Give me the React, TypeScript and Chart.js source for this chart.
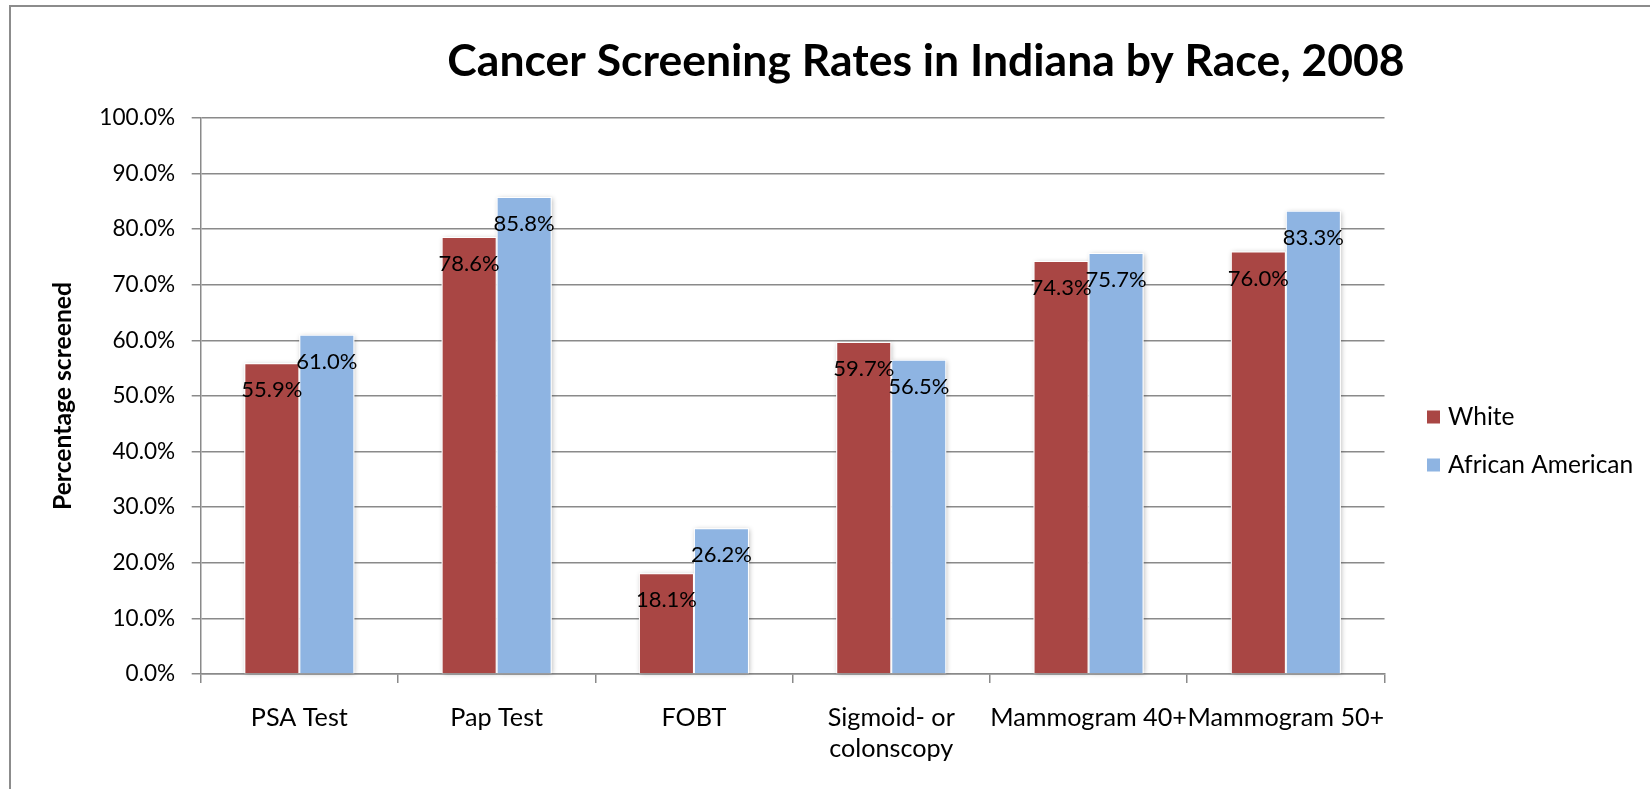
import React, { useEffect, useRef } from 'react';
import { Chart, registerables } from 'chart.js';

Chart.register(...registerables);

const chartTitle = 'Cancer Screening Rates in Indiana by Race, 2008';
const yAxisTitle = 'Percentage screened';
const categories: (string | string[])[] = [
  'PSA Test',
  'Pap Test',
  'FOBT',
  ['Sigmoid- or', 'colonscopy'],
  'Mammogram 40+',
  'Mammogram 50+',
];
const seriesNames = ['White', 'African American'];
const whiteValues = [55.9, 78.6, 18.1, 59.7, 74.3, 76.0];
const africanAmericanValues = [61.0, 85.8, 26.2, 56.5, 75.7, 83.3];
const yMin = 0;
const yMax = 100;
const yStep = 10;

const RED = '#A94644';
const BLUE = '#8EB4E2';
const GRID = '#8A8A8A';
const FONT = 'Lato, "Noto Sans", sans-serif';

const W = 1650;
const H = 789;

const framePlugin = {
  id: 'frame',
  beforeDraw(chart: any) {
    const ctx = chart.ctx;
    ctx.save();
    ctx.fillStyle = '#ffffff';
    ctx.fillRect(0, 0, chart.width, chart.height);
    ctx.strokeStyle = '#8C8C8C';
    ctx.lineWidth = 2;
    ctx.beginPath();
    ctx.moveTo(10, chart.height + 5);
    ctx.lineTo(10, 6);
    ctx.lineTo(chart.width + 5, 6);
    ctx.stroke();
    ctx.restore();
  },
};

const shadowPlugin = {
  id: 'barShadow',
  beforeDatasetsDraw(chart: any) {
    const ctx = chart.ctx;
    ctx.save();
    ctx.shadowColor = 'rgba(0,0,0,0.28)';
    ctx.shadowBlur = 5;
    ctx.shadowOffsetX = 1;
    ctx.shadowOffsetY = 1;
    ctx.fillStyle = '#ffffff';
    chart.data.datasets.forEach((_d: any, i: number) => {
      const meta = chart.getDatasetMeta(i);
      meta.data.forEach((el: any) => {
        const p = el.getProps(['x', 'y', 'base', 'width'], true);
        ctx.fillRect(p.x - p.width / 2, p.y, p.width, p.base - p.y);
      });
    });
    ctx.restore();
  },
};

const valueLabelPlugin = {
  id: 'valueLabels',
  afterDatasetsDraw(chart: any) {
    const ctx = chart.ctx;
    ctx.save();
    ctx.font = `22px ${FONT}`;
    ctx.fillStyle = '#000000';
    ctx.textAlign = 'center';
    ctx.textBaseline = 'middle';
    chart.data.datasets.forEach((ds: any, i: number) => {
      const meta = chart.getDatasetMeta(i);
      meta.data.forEach((el: any, j: number) => {
        const p = el.getProps(['x', 'y'], true);
        ctx.fillText(`${Number(ds.data[j]).toFixed(1)}%`, p.x, p.y + 27);
      });
    });
    ctx.restore();
  },
};

const titleLegendPlugin = {
  id: 'titleLegend',
  afterDraw(chart: any) {
    const ctx = chart.ctx;
    ctx.save();
    ctx.fillStyle = '#000000';
    ctx.textAlign = 'center';
    ctx.textBaseline = 'middle';
    ctx.font = `bold 44.5px ${FONT}`;
    ctx.fillText(chartTitle, 926, 62);

    ctx.textAlign = 'left';
    ctx.font = `24.5px ${FONT}`;
    chart.data.datasets.forEach((ds: any, i: number) => {
      const cy = 417 + i * 48;
      ctx.fillStyle = ds.backgroundColor;
      ctx.fillRect(1427, cy - 6.5, 13, 13);
      ctx.fillStyle = '#000000';
      ctx.fillText(ds.label, 1448, cy);
    });
    ctx.restore();
  },
};

export default function App() {
  const canvasRef = useRef<HTMLCanvasElement | null>(null);

  useEffect(() => {
    if (!canvasRef.current) return;
    Chart.defaults.font.family = FONT;
    const chart = new Chart(canvasRef.current, {
      type: 'bar',
      data: {
        labels: categories,
        datasets: [
          {
            label: seriesNames[0],
            data: whiteValues,
            backgroundColor: RED,
            borderColor: '#ffffff',
            borderWidth: 1,
            categoryPercentage: 0.5575,
            barPercentage: 1,
          },
          {
            label: seriesNames[1],
            data: africanAmericanValues,
            backgroundColor: BLUE,
            borderColor: '#ffffff',
            borderWidth: 1,
            categoryPercentage: 0.5575,
            barPercentage: 1,
          },
        ],
      },
      options: {
        responsive: false,
        animation: false,
        devicePixelRatio: 1,
        layout: { padding: { top: 118, right: W - 1384.5, bottom: 0, left: 0 } },
        plugins: {
          legend: { display: false },
          title: { display: false },
          tooltip: { enabled: false },
        },
        scales: {
          x: {
            afterFit: (scale: any) => {
              scale.height = H - 674;
            },
            grid: {
              display: true,
              drawOnChartArea: false,
              drawTicks: true,
              tickLength: 9,
              color: GRID,
              lineWidth: 1.5,
            },
            border: { display: true, color: GRID, width: 1.5 },
            ticks: {
              autoSkip: false,
              maxRotation: 0,
              minRotation: 0,
              padding: 19,
              color: '#000000',
              font: { size: 25.2, lineHeight: 1.24 },
            },
          },
          y: {
            min: yMin,
            max: yMax,
            afterFit: (scale: any) => {
              scale.width = 200.7;
            },
            grid: {
              display: true,
              drawOnChartArea: true,
              drawTicks: true,
              tickLength: 9,
              color: GRID,
              lineWidth: 1.5,
            },
            border: { display: true, color: GRID, width: 1.5 },
            ticks: {
              stepSize: yStep,
              padding: 16.5,
              color: '#000000',
              font: { size: 22.6 },
              callback: (v: any) => `${Number(v).toFixed(1)}%`,
            },
            title: {
              display: true,
              text: yAxisTitle,
              color: '#000000',
              font: { size: 24.7, weight: 'bold', lineHeight: 1.2 },
              padding: { top: 48, bottom: 0 },
            },
          },
        },
      },
      plugins: [framePlugin, shadowPlugin, valueLabelPlugin, titleLegendPlugin],
    });
    return () => chart.destroy();
  }, []);

  return (
    <div style={{ position: 'fixed', left: 0, top: 0, width: W, height: H }}>
      <canvas ref={canvasRef} width={W} height={H} style={{ display: 'block', width: W, height: H }} />
    </div>
  );
}
